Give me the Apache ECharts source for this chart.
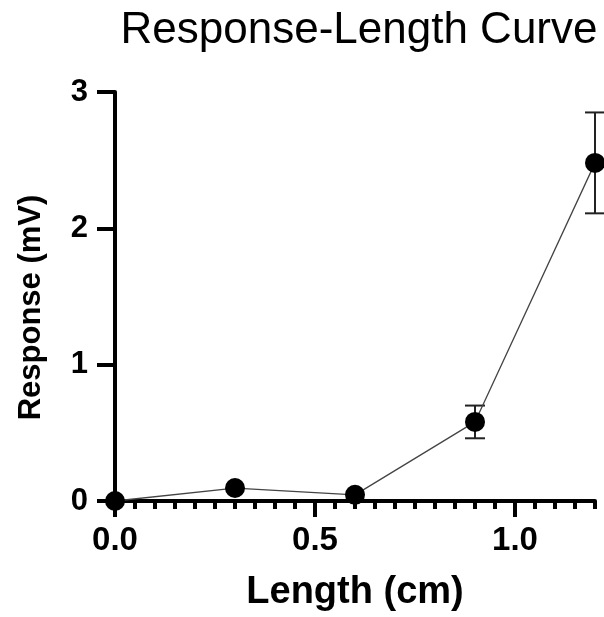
<!DOCTYPE html>
<html>
<head>
<meta charset="utf-8">
<script src="https://cdn.jsdelivr.net/npm/echarts@6/dist/echarts.min.js"></script>
<style>
  html, body { margin: 0; padding: 0; background: #fff; }
  #chart { width: 604px; height: 617px; }
</style>
</head>
<body>
<div id="chart"></div>
<script>
var lengthCm = [0, 0.3, 0.6, 0.9, 1.2];
var responseMv = [0, 0.095, 0.045, 0.58, 2.48];
var responseSd = [0, 0, 0, 0.12, 0.37];
var xMajorTicks = [0, 0.5, 1.0];
var yTicks = [0, 1, 2, 3];

var font = 'Arial, "Liberation Sans", sans-serif';

var points = lengthCm.map(function (x, i) { return [x, responseMv[i]]; });
var errData = [];
lengthCm.forEach(function (x, i) {
    if (responseSd[i] > 0) {
        errData.push([x, responseMv[i] - responseSd[i], responseMv[i] + responseSd[i]]);
    }
});

var chart = echarts.init(document.getElementById('chart'));

var option = {
    backgroundColor: '#fff',
    animation: false,
    title: {
        text: 'Response-Length Curve',
        left: 354,
        top: 4,
        textAlign: 'center',
        textStyle: { fontFamily: font, fontSize: 44, fontWeight: 'normal', color: '#000' }
    },
    grid: { left: 115, right: 9, top: 92, bottom: 115 },
    xAxis: [{
        type: 'value',
        position: 'bottom',
        min: 0,
        max: 1.2,
        interval: 0.05,
        splitLine: { show: false },
        axisLine: { lineStyle: { color: '#000', width: 4 } },
        axisTick: { length: 8, lineStyle: { color: '#000', width: 4 } },
        axisLabel: { show: false }
    }, {
        type: 'value',
        position: 'bottom',
        min: 0,
        max: 1.2,
        name: 'Length (cm)',
        nameLocation: 'middle',
        nameGap: 73,
        nameTextStyle: { fontFamily: font, fontSize: 38, fontWeight: 'bold', color: '#000' },
        splitLine: { show: false },
        axisLine: { show: false },
        axisTick: { customValues: xMajorTicks, length: 16, lineStyle: { color: '#000', width: 4 } },
        axisLabel: {
            customValues: xMajorTicks,
            margin: 23,
            fontFamily: font, fontSize: 33, fontWeight: 'bold', color: '#000',
            formatter: function (v) { return v.toFixed(1); }
        }
    }],
    yAxis: {
        type: 'value',
        min: 0,
        max: 3,
        interval: 1,
        name: 'Response (mV)',
        nameLocation: 'middle',
        nameGap: 68,
        nameTextStyle: {
            fontFamily: font, fontSize: 31, fontWeight: 'bold', color: '#000',
            padding: [0, 22, 0, 0]
        },
        splitLine: { show: false },
        axisLine: { show: true, lineStyle: { color: '#000', width: 4 } },
        axisTick: { length: 18, lineStyle: { color: '#000', width: 4 } },
        axisLabel: {
            customValues: yTicks,
            margin: 27,
            fontFamily: font, fontSize: 31, fontWeight: 'bold', color: '#000'
        }
    },
    series: [{
        type: 'custom',
        xAxisIndex: 0,
        data: errData,
        clip: false,
        z: 1,
        renderItem: function (params, api) {
            var x = api.value(0);
            var lo = api.coord([x, api.value(1)]);
            var hi = api.coord([x, api.value(2)]);
            var cap = 10;
            var style = { stroke: '#222', lineWidth: 2 };
            return {
                type: 'group',
                children: [
                    { type: 'line', shape: { x1: lo[0], y1: lo[1], x2: hi[0], y2: hi[1] }, style: style },
                    { type: 'line', shape: { x1: lo[0] - cap, y1: lo[1], x2: lo[0] + cap, y2: lo[1] }, style: style },
                    { type: 'line', shape: { x1: hi[0] - cap, y1: hi[1], x2: hi[0] + cap, y2: hi[1] }, style: style }
                ]
            };
        }
    }, {
        type: 'line',
        xAxisIndex: 0,
        data: points,
        clip: false,
        z: 3,
        symbol: 'circle',
        symbolSize: 20,
        itemStyle: { color: '#000' },
        lineStyle: { color: '#444', width: 1.3 }
    }]
};

chart.setOption(option);
</script>
</body>
</html>
